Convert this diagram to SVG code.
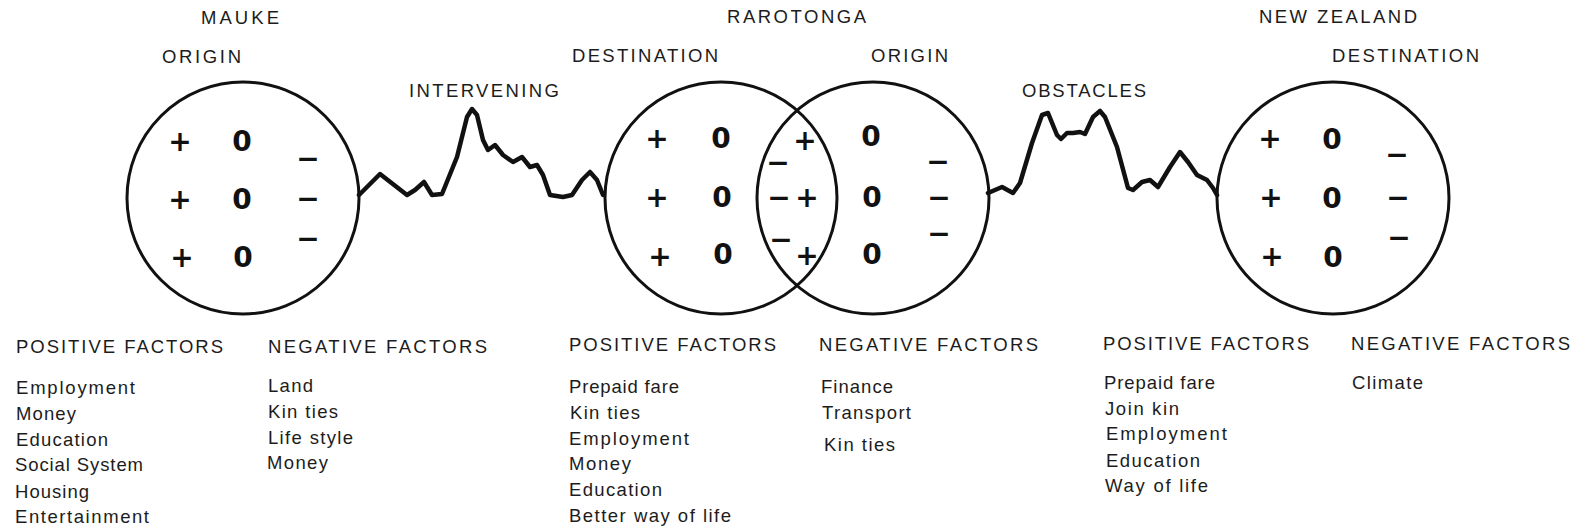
<svg xmlns="http://www.w3.org/2000/svg" width="1583" height="530" viewBox="0 0 1583 530">
<style>
.lbl{font-family:"Liberation Sans",Arial,sans-serif;font-size:18.5px;fill:#1c1c1c}
.sym{font-family:"DejaVu Sans",sans-serif;font-weight:bold;font-size:28px;fill:#111;text-anchor:middle}
.ring{fill:none;stroke:#111;stroke-width:3}
.ridge{fill:none;stroke:#111;stroke-width:4.5;stroke-linejoin:round;stroke-linecap:round}
</style>
<rect width="1583" height="530" fill="#fff"/>

<g id="connectors">
<path class="ridge" d="M359,195 L380,174 L407,195 L415,190 L424,182 L432,195 L442,194 L457,157 L467,117 L472,109 L477,115 L483,140 L488,150 L495,145 L503,155 L513,162 L522,157 L530,167 L537,165 L543,175 L550,195 L563,197 L572,195 L582,180 L590,172 L597,180 L603,195"/>
<path class="ridge" d="M988,193 L1002,187 L1013,193 L1020,183 L1032,143 L1042,115 L1048,113 L1057,135 L1061,139 L1067,133 L1073,133 L1080,132 L1085,134 L1093,117 L1100,111 L1105,117 L1117,147 L1128,188 L1133,190 L1142,182 L1150,180 L1158,187 L1170,167 L1180,152 L1188,162 L1197,175 L1207,180 L1213,188 L1217,195"/>
</g>

<g id="top-labels">
<text class="lbl" x="201" y="24" textLength="78">MAUKE</text>
<text class="lbl" x="162" y="63" textLength="79">ORIGIN</text>
<text class="lbl" x="409" y="97" textLength="150">INTERVENING</text>
<text class="lbl" x="727" y="23" textLength="139">RAROTONGA</text>
<text class="lbl" x="572" y="62" textLength="146">DESTINATION</text>
<text class="lbl" x="871" y="62" textLength="77">ORIGIN</text>
<text class="lbl" x="1022" y="97" textLength="124">OBSTACLES</text>
<text class="lbl" x="1259" y="23" textLength="158">NEW ZEALAND</text>
<text class="lbl" x="1332" y="62" textLength="147">DESTINATION</text>
</g>

<g id="mauke-origin">
<circle class="ring" cx="243" cy="198" r="116"/>
<text class="sym" x="180" y="151">+</text>
<text class="sym" x="180" y="209">+</text>
<text class="sym" x="182" y="267">+</text>
<text class="sym" x="242" y="151">0</text>
<text class="sym" x="242" y="209">0</text>
<text class="sym" x="243" y="267">0</text>
<text class="sym" x="308" y="168">−</text>
<text class="sym" x="308" y="208">−</text>
<text class="sym" x="308" y="248">−</text>
</g>

<g id="rarotonga-destination">
<circle class="ring" cx="721" cy="198" r="116"/>
<text class="sym" x="657" y="148">+</text>
<text class="sym" x="657" y="207">+</text>
<text class="sym" x="660" y="266">+</text>
<text class="sym" x="721" y="148">0</text>
<text class="sym" x="722" y="207">0</text>
<text class="sym" x="723" y="264">0</text>
</g>

<g id="rarotonga-overlap">
<text class="sym" x="805" y="150">+</text>
<text class="sym" x="807" y="207">+</text>
<text class="sym" x="807" y="265">+</text>
<text class="sym" x="778" y="172">−</text>
<text class="sym" x="779" y="207">−</text>
<text class="sym" x="781" y="249">−</text>
</g>

<g id="rarotonga-origin">
<circle class="ring" cx="873" cy="198" r="116"/>
<text class="sym" x="871" y="146">0</text>
<text class="sym" x="872" y="207">0</text>
<text class="sym" x="872" y="264">0</text>
<text class="sym" x="938" y="171">−</text>
<text class="sym" x="939" y="207">−</text>
<text class="sym" x="939" y="243">−</text>
</g>

<g id="new-zealand-destination">
<circle class="ring" cx="1333" cy="198" r="116"/>
<text class="sym" x="1270" y="148">+</text>
<text class="sym" x="1271" y="207">+</text>
<text class="sym" x="1272" y="266">+</text>
<text class="sym" x="1332" y="149">0</text>
<text class="sym" x="1332" y="208">0</text>
<text class="sym" x="1333" y="267">0</text>
<text class="sym" x="1397" y="164">−</text>
<text class="sym" x="1398" y="207">−</text>
<text class="sym" x="1399" y="247">−</text>
</g>

<g id="mauke-positive">
<text class="lbl" x="16" y="353" textLength="207">POSITIVE FACTORS</text>
<text class="lbl" x="16" y="394" textLength="119">Employment</text>
<text class="lbl" x="16" y="420" textLength="60">Money</text>
<text class="lbl" x="16" y="445.5" textLength="92">Education</text>
<text class="lbl" x="15" y="471" textLength="128">Social System</text>
<text class="lbl" x="15" y="497.5" textLength="74">Housing</text>
<text class="lbl" x="15" y="522.5" textLength="134">Entertainment</text>
</g>

<g id="mauke-negative">
<text class="lbl" x="268" y="352.5" textLength="219">NEGATIVE FACTORS</text>
<text class="lbl" x="268" y="392" textLength="45">Land</text>
<text class="lbl" x="268" y="418" textLength="70">Kin ties</text>
<text class="lbl" x="268" y="443.5" textLength="85">Life style</text>
<text class="lbl" x="267" y="468.5" textLength="61">Money</text>
</g>

<g id="rarotonga-positive">
<text class="lbl" x="569" y="351" textLength="207">POSITIVE FACTORS</text>
<text class="lbl" x="569" y="393" textLength="110">Prepaid fare</text>
<text class="lbl" x="570" y="419" textLength="70">Kin ties</text>
<text class="lbl" x="569" y="445" textLength="120">Employment</text>
<text class="lbl" x="569" y="470" textLength="62">Money</text>
<text class="lbl" x="569" y="496" textLength="93">Education</text>
<text class="lbl" x="569" y="522" textLength="162">Better way of life</text>
</g>

<g id="rarotonga-negative">
<text class="lbl" x="819" y="351" textLength="219">NEGATIVE FACTORS</text>
<text class="lbl" x="821" y="393" textLength="72">Finance</text>
<text class="lbl" x="822" y="419" textLength="89">Transport</text>
<text class="lbl" x="824" y="450.5" textLength="71">Kin ties</text>
</g>

<g id="new-zealand-positive">
<text class="lbl" x="1103" y="350" textLength="206">POSITIVE FACTORS</text>
<text class="lbl" x="1104" y="388.5" textLength="111">Prepaid fare</text>
<text class="lbl" x="1105" y="415" textLength="74">Join kin</text>
<text class="lbl" x="1106" y="440" textLength="121">Employment</text>
<text class="lbl" x="1106" y="466.5" textLength="94">Education</text>
<text class="lbl" x="1105" y="491.5" textLength="103">Way of life</text>
</g>

<g id="new-zealand-negative">
<text class="lbl" x="1351" y="350" textLength="219">NEGATIVE FACTORS</text>
<text class="lbl" x="1352" y="388.5" textLength="71">Climate</text>
</g>
</svg>
